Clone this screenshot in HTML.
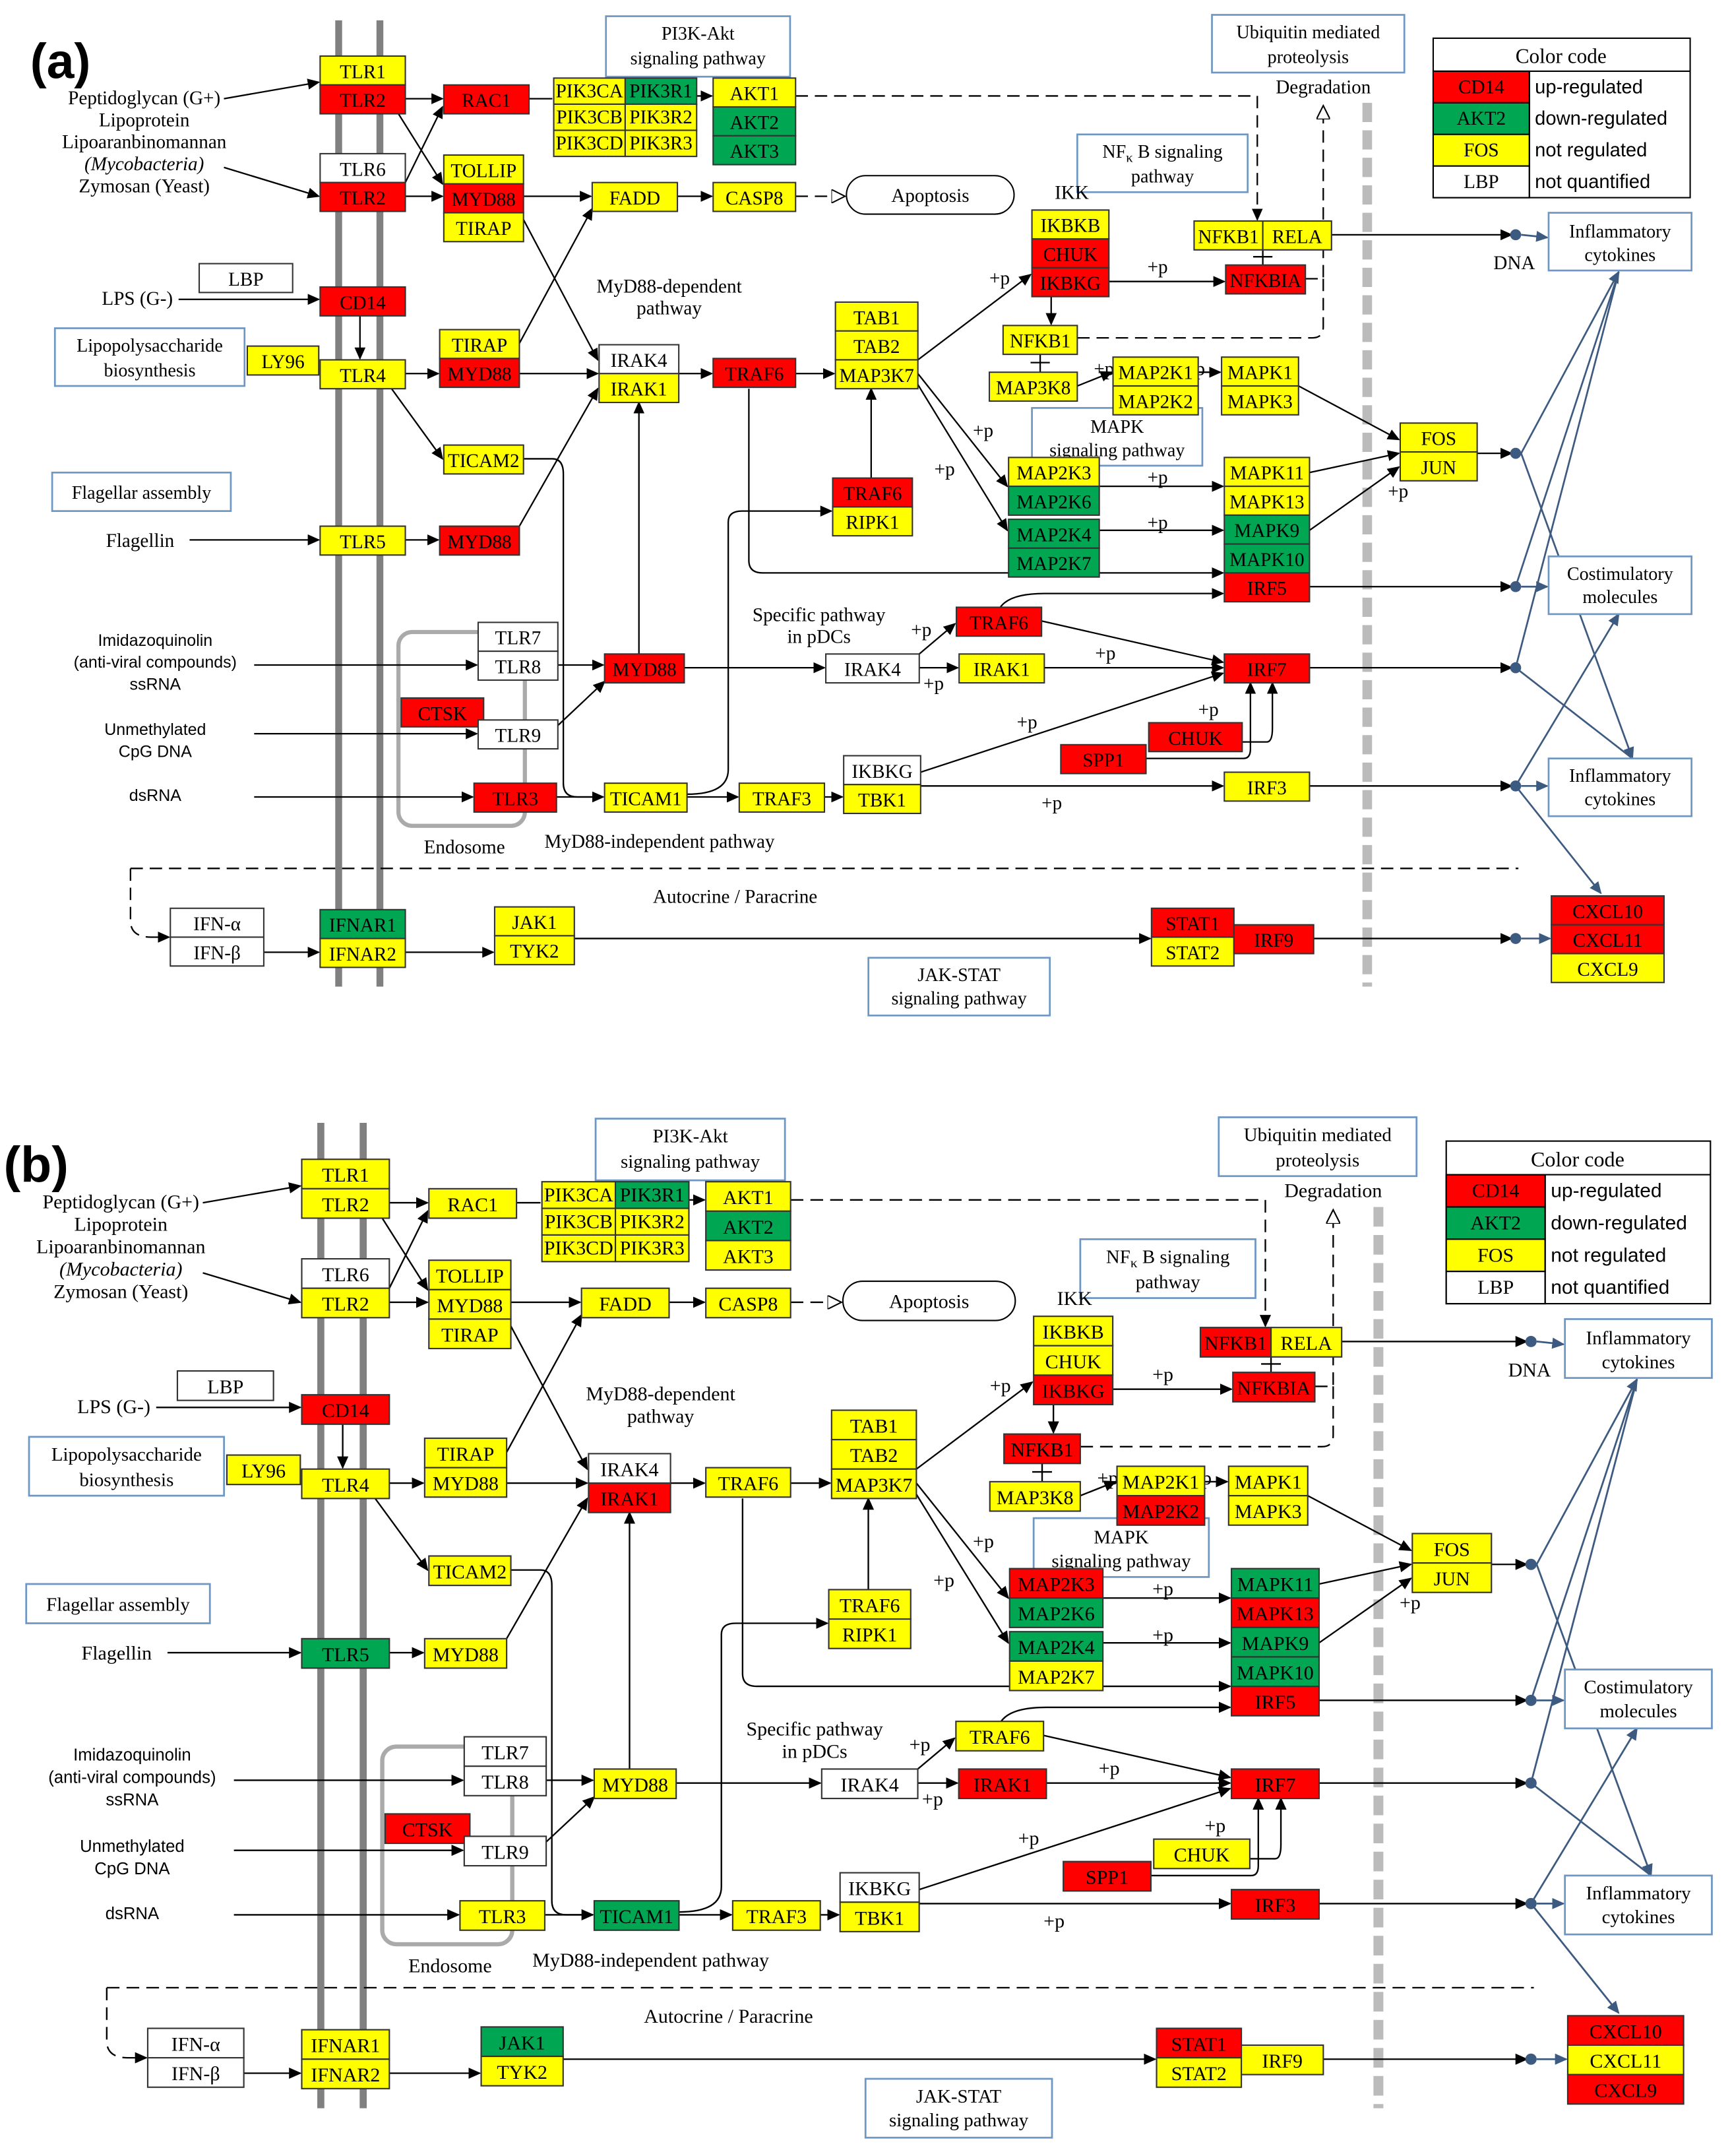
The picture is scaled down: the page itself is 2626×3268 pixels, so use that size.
<!DOCTYPE html>
<html><head><meta charset="utf-8"><style>
html,body{margin:0;padding:0;background:#fff}
svg{display:block}
text{font-family:"Liberation Serif",serif;font-size:14px;fill:#000}
.bx text{text-anchor:middle}
rect.y{fill:#ffff00;stroke:#333;stroke-width:1}
rect.r{fill:#ff0000;stroke:#333;stroke-width:1}
rect.g{fill:#00a651;stroke:#333;stroke-width:1}
rect.w{fill:#fff;stroke:#333;stroke-width:1}
.pw rect{fill:#fff;stroke:#6f97c4;stroke-width:1.3}
.pw text{text-anchor:middle;font-size:13.5px}
.e{stroke:#000;stroke-width:1.1;fill:none;marker-end:url(#ar)}
.l{stroke:#000;stroke-width:1.1;fill:none}
.d{stroke:#000;stroke-width:1.1;fill:none;stroke-dasharray:9 5}
.o{stroke:#3d5a80;stroke-width:1.3;fill:none}
.sm{font-family:"Liberation Sans",sans-serif;font-size:12px;text-anchor:middle}
.c{text-anchor:middle}
.p{font-size:12px}
.cc{font-family:"Liberation Sans",sans-serif;font-size:14px}
</style></head><body>
<svg width="2626" height="3268" viewBox="0 0 1250 1556" xmlns="http://www.w3.org/2000/svg">
<defs>
<marker id="ar" markerWidth="9" markerHeight="8" refX="8" refY="4" orient="auto" markerUnits="userSpaceOnUse"><path d="M0,0 L9,4 L0,8z" fill="#000"/></marker>
<marker id="ot" markerWidth="11" markerHeight="10" refX="10" refY="5" orient="auto" markerUnits="userSpaceOnUse"><path d="M0,0 L10,5 L0,10z" fill="#fff" stroke="#000"/></marker>
<marker id="ob" markerWidth="9" markerHeight="8" refX="8" refY="4" orient="auto" markerUnits="userSpaceOnUse"><path d="M0,0 L9,4 L0,8z" fill="#3d5a80"/></marker>
</defs>

<!-- ================= PANEL A ================= -->
<g transform="translate(-0.2,-0.2) scale(0.992)">
<text x="22" y="57" style="font-family:'Liberation Sans',sans-serif;font-weight:bold;font-size:36px">(a)</text>
<rect x="244" y="15" width="5" height="703" fill="#808080"/>
<rect x="274" y="15" width="5" height="703" fill="#808080"/>
<line x1="995" y1="75" x2="995" y2="718" stroke="#bbb" stroke-width="7" stroke-dasharray="14 6"/>
<rect x="290" y="460" width="92" height="141" rx="10" fill="none" stroke="#aaa" stroke-width="3"/>

<path class="e" d="M163,72 L232,60"/><path class="e" d="M163,122 L232,143"/>
<path class="e" d="M130,218 L232,218"/><path class="e" d="M262,230 L262,261"/>
<path class="e" d="M138,393 L232,393"/><path class="e" d="M185,484 L347,484"/>
<path class="e" d="M185,534 L347,534"/><path class="e" d="M185,580 L344,580"/>
<path class="e" d="M192,693 L232,693"/>
<path class="e" d="M295,72 L322,72"/><path class="l" d="M385,72 L402,72"/><path class="e" d="M507,70 L518,70"/>
<path class="e" d="M290,83 L322,134"/><path class="e" d="M295,133 L322,78"/>
<path class="e" d="M295,143 L322,143"/><path class="e" d="M381,143 L430,143"/><path class="e" d="M493,143 L518,143"/>
<path class="d" d="M579,143 L615,143" marker-end="url(#ot)"/>
<path class="e" d="M381,160 L435,262"/><path class="e" d="M378,250 L431,152"/>
<path class="e" d="M295,272 L319,272"/><path class="e" d="M378,272 L435,272"/>
<path class="e" d="M494,272 L518,272"/><path class="e" d="M579,272 L607,272"/>
<path class="e" d="M285,283 L322,334"/>
<path class="l" d="M381,334 L402,334 Q410,334 410,345 L410,570 Q410,580 420,580 L439,580"/>
<path class="e" d="M295,393 L319,393"/><path class="e" d="M378,383 L435,283"/>
<path class="e" d="M465,476 L465,293"/>
<path class="e" d="M406,484 L439,484"/><path class="e" d="M406,528 L440,496"/>
<path class="e" d="M498,486 L600,486"/><path class="e" d="M669,486 L697,486"/>
<path class="e" d="M669,476 L695,454"/>
<path class="e" d="M760,486 L890,486"/><path class="e" d="M758,452 L890,482"/>
<path class="e" d="M728,442 Q735,432 760,432 L890,432"/>
<path class="e" d="M953,486 L1100,486"/>
<path class="e" d="M904,540 L922,540 Q926,540 926,530 L926,497"/>
<path class="e" d="M834,552 L905,552 Q910,552 910,545 L910,497"/>
<path class="e" d="M405,580 L439,580"/><path class="e" d="M500,580 L537,580"/>
<path class="e" d="M500,578 Q530,578 530,560 L530,380 Q530,372 540,372 L605,372"/>
<path class="e" d="M600,580 L613,580"/><path class="e" d="M670,572 L890,572"/>
<path class="e" d="M670,562 L890,490"/><path class="e" d="M953,572 L1100,572"/>
<path class="e" d="M953,427 L1100,427"/>
<path class="e" d="M545,283 L545,408 Q545,417 555,417 L890,417"/>
<path class="e" d="M668,262 L750,200"/>
<path class="e" d="M668,272 L733,354"/><path class="e" d="M668,280 L733,386"/>
<path class="e" d="M634,348 L634,283"/>
<path class="e" d="M807,205 L891,205"/><path class="e" d="M765,216 L765,236"/>
<path class="l" d="M757,258 L757,271 M750,264 L764,264"/>
<path class="e" d="M784,281 L809,271"/><path class="e" d="M872,271 L888,271"/>
<path class="e" d="M800,354 L890,354"/><path class="e" d="M800,386 L890,386"/>
<path class="e" d="M945,281 L1018,320"/><path class="e" d="M953,344 L1018,330"/><path class="e" d="M953,386 L1018,340"/>
<path class="e" d="M1075,330 L1100,330"/>
<path class="l" d="M919,182 L919,193 M912,187 L926,187"/>
<path class="e" d="M969,171 L1100,171"/>
<path class="d" d="M579,70 L915,70 L915,160" marker-end="url(#ar)"/>
<path class="d" d="M950,203 L963,203 L963,77" marker-end="url(#ot)"/>
<path class="d" d="M784,246 L955,246 Q963,246 963,238 L963,200"/>
<path class="d" d="M95,632 L1105,632"/>
<path class="d" d="M95,632 L95,670 Q95,682 110,682 L123,682" marker-end="url(#ar)"/>
<path class="e" d="M295,693 L359,693"/><path class="e" d="M418,683 L837,683"/>
<path class="e" d="M956,683 L1100,683"/>
<g fill="#3d5a80"><circle cx="1103" cy="171" r="4"/><circle cx="1103" cy="330" r="4"/><circle cx="1103" cy="427" r="4"/><circle cx="1103" cy="486" r="4"/><circle cx="1103" cy="572" r="4"/><circle cx="1103" cy="683" r="4"/></g>
<path class="o" d="M1107,171 L1126,173" marker-end="url(#ob)"/>
<path class="o" d="M1107,330 L1178,198" marker-end="url(#ob)"/>
<path class="o" d="M1107,330 L1188,552" marker-end="url(#ob)"/>
<path class="o" d="M1103,427 L1178,198"/><path class="o" d="M1107,427 L1126,427" marker-end="url(#ob)"/>
<path class="o" d="M1103,486 L1178,198"/><path class="o" d="M1103,486 L1188,552"/>
<path class="o" d="M1103,572 L1178,447" marker-end="url(#ob)"/><path class="o" d="M1107,572 L1126,572" marker-end="url(#ob)"/>
<path class="o" d="M1103,572 L1165,650" marker-end="url(#ob)"/>
<path class="o" d="M1107,683 L1128,683" marker-end="url(#ob)"/>

<g class="pw">
<rect x="441" y="12" width="134" height="44"/><text x="508" y="29">PI3K-Akt</text><text x="508" y="47">signaling pathway</text>
<rect x="882" y="11" width="140" height="42"/><text x="952" y="28">Ubiquitin mediated</text><text x="952" y="46">proteolysis</text>
<rect x="784" y="98" width="124" height="42"/><text x="846" y="115">NF<tspan font-size="10" dy="3">κ</tspan><tspan dy="-3"> B signaling</tspan></text><text x="846" y="133">pathway</text>
<rect x="40" y="239" width="138" height="42"/><text x="109" y="256">Lipopolysaccharide</text><text x="109" y="274">biosynthesis</text>
<rect x="38" y="344" width="130" height="28"/><text x="103" y="363">Flagellar assembly</text>
<rect x="751" y="297" width="124" height="42"/><text x="813" y="315">MAPK</text><text x="813" y="332">signaling pathway</text>
<rect x="1127" y="155" width="104" height="42"/><text x="1179" y="173">Inflammatory</text><text x="1179" y="190">cytokines</text>
<rect x="1127" y="405" width="104" height="42"/><text x="1179" y="422">Costimulatory</text><text x="1179" y="439">molecules</text>
<rect x="1127" y="552" width="104" height="42"/><text x="1179" y="569">Inflammatory</text><text x="1179" y="586">cytokines</text>
<rect x="632" y="697" width="132" height="42"/><text x="698" y="714">JAK-STAT</text><text x="698" y="731">signaling pathway</text>
</g>
<rect x="616" y="128" width="122" height="28" rx="14" fill="#fff" stroke="#000"/><text class="c" x="677" y="147">Apoptosis</text>
<g class="c">
<text x="105" y="76">Peptidoglycan (G+)</text><text x="105" y="92">Lipoprotein</text><text x="105" y="108">Lipoaranbinomannan</text><text x="105" y="124" font-style="italic">(Mycobacteria)</text><text x="105" y="140">Zymosan (Yeast)</text>
<text x="100" y="222">LPS (G-)</text><text x="102" y="398">Flagellin</text>
<text x="487" y="213">MyD88-dependent</text><text x="487" y="229">pathway</text>
<text x="780" y="145">IKK</text>
<text x="596" y="452">Specific pathway</text><text x="596" y="468">in pDCs</text>
<text x="338" y="621">Endosome</text><text x="480" y="617">MyD88-independent pathway</text>
<text x="535" y="657">Autocrine / Paracrine</text>
<text x="963" y="68">Degradation</text><text x="1102" y="196">DNA</text>
</g>
<text class="sm" x="113" y="470">Imidazoquinolin</text><text class="sm" x="113" y="486">(anti-viral compounds)</text><text class="sm" x="113" y="502">ssRNA</text>
<text class="sm" x="113" y="535">Unmethylated</text><text class="sm" x="113" y="551">CpG DNA</text><text class="sm" x="113" y="583">dsRNA</text>
<g class="p"><text x="720" y="207">+p</text><text x="835" y="199">+p</text><text x="708" y="318">+p</text><text x="680" y="346">+p</text><text x="835" y="352">+p</text><text x="835" y="385">+p</text><text x="796" y="273">+p</text><text x="870" y="273">p</text><text x="663" y="463">+p</text><text x="672" y="502">+p</text><text x="797" y="480">+p</text><text x="740" y="530">+p</text><text x="872" y="521">+p</text><text x="758" y="589">+p</text><text x="1010" y="362">+p</text></g>

<rect x="1043" y="28" width="187" height="116" fill="#fff" stroke="#000"/>
<text class="c" x="1136" y="46" style="font-size:15px">Color code</text>
<rect x="1043" y="52" width="70" height="23" fill="#f00" stroke="#000"/><text class="c" x="1078" y="68" fill="#800">CD14</text><text class="cc" x="1117" y="68">up-regulated</text>
<rect x="1043" y="75" width="70" height="23" fill="#00a651" stroke="#000"/><text class="c" x="1078" y="91">AKT2</text><text class="cc" x="1117" y="91">down-regulated</text>
<rect x="1043" y="98" width="70" height="23" fill="#ff0" stroke="#000"/><text class="c" x="1078" y="114">FOS</text><text class="cc" x="1117" y="114">not regulated</text>
<rect x="1043" y="121" width="70" height="23" fill="#fff" stroke="#000"/><text class="c" x="1078" y="137">LBP</text><text class="cc" x="1117" y="137">not quantified</text>
<line x1="1043" y1="52" x2="1230" y2="52" stroke="#000"/><line x1="1113" y1="52" x2="1113" y2="144" stroke="#000"/>

<g class="bx">
<rect class="y" x="233" y="41" width="62" height="21"/><text x="264" y="57">TLR1</text>
<rect class="r" x="233" y="62" width="62" height="21"/><text x="264" y="78">TLR2</text>
<rect class="w" x="233" y="112" width="62" height="21"/><text x="264" y="128">TLR6</text>
<rect class="r" x="233" y="133" width="62" height="21"/><text x="264" y="149">TLR2</text>
<rect class="r" x="233" y="209" width="62" height="21"/><text x="264" y="225">CD14</text>
<rect class="y" x="233" y="262" width="62" height="21"/><text x="264" y="278">TLR4</text>
<rect class="y" x="233" y="383" width="62" height="21"/><text x="264" y="399">TLR5</text>
<rect class="g" x="233" y="662" width="62" height="21"/><text x="264" y="678">IFNAR1</text>
<rect class="y" x="233" y="683" width="62" height="21"/><text x="264" y="699">IFNAR2</text>
<rect class="y" x="180" y="252" width="52" height="21"/><text x="206" y="268">LY96</text>
<rect class="w" x="145" y="192" width="68" height="21"/><text x="179" y="208">LBP</text>
<rect class="r" x="323" y="62" width="62" height="21"/><text x="354" y="78">RAC1</text>
<rect class="y" x="403" y="57" width="52" height="19"/><text x="429" y="71" font-size="12">PIK3CA</text>
<rect class="g" x="455" y="57" width="52" height="19"/><text x="481" y="71" font-size="12">PIK3R1</text>
<rect class="y" x="403" y="76" width="52" height="19"/><text x="429" y="90" font-size="12">PIK3CB</text>
<rect class="y" x="455" y="76" width="52" height="19"/><text x="481" y="90" font-size="12">PIK3R2</text>
<rect class="y" x="403" y="95" width="52" height="19"/><text x="429" y="109" font-size="12">PIK3CD</text>
<rect class="y" x="455" y="95" width="52" height="19"/><text x="481" y="109" font-size="12">PIK3R3</text>
<rect class="y" x="519" y="57" width="60" height="21"/><text x="549" y="73">AKT1</text>
<rect class="g" x="519" y="78" width="60" height="21"/><text x="549" y="94">AKT2</text>
<rect class="g" x="519" y="99" width="60" height="21"/><text x="549" y="115">AKT3</text>
<rect class="y" x="323" y="113" width="58" height="21"/><text x="352" y="129">TOLLIP</text>
<rect class="r" x="323" y="134" width="58" height="21"/><text x="352" y="150">MYD88</text>
<rect class="y" x="323" y="155" width="58" height="21"/><text x="352" y="171">TIRAP</text>
<rect class="y" x="431" y="133" width="62" height="21"/><text x="462" y="149">FADD</text>
<rect class="y" x="519" y="133" width="60" height="21"/><text x="549" y="149">CASP8</text>
<rect class="y" x="320" y="240" width="58" height="21"/><text x="349" y="256">TIRAP</text>
<rect class="r" x="320" y="261" width="58" height="21"/><text x="349" y="277">MYD88</text>
<rect class="w" x="436" y="251" width="58" height="21"/><text x="465" y="267">IRAK4</text>
<rect class="y" x="436" y="272" width="58" height="21"/><text x="465" y="288">IRAK1</text>
<rect class="r" x="519" y="261" width="60" height="21"/><text x="549" y="277">TRAF6</text>
<rect class="y" x="608" y="220" width="60" height="21"/><text x="638" y="236">TAB1</text>
<rect class="y" x="608" y="241" width="60" height="21"/><text x="638" y="257">TAB2</text>
<rect class="y" x="608" y="262" width="60" height="21"/><text x="638" y="278">MAP3K7</text>
<rect class="y" x="323" y="324" width="58" height="21"/><text x="352" y="340">TICAM2</text>
<rect class="r" x="320" y="383" width="58" height="21"/><text x="349" y="399">MYD88</text>
<rect class="r" x="606" y="348" width="58" height="21"/><text x="635" y="364">TRAF6</text>
<rect class="y" x="606" y="369" width="58" height="21"/><text x="635" y="385">RIPK1</text>
<rect class="y" x="751" y="153" width="56" height="21"/><text x="779" y="169">IKBKB</text>
<rect class="r" x="751" y="174" width="56" height="21"/><text x="779" y="190">CHUK</text>
<rect class="r" x="751" y="195" width="56" height="21"/><text x="779" y="211">IKBKG</text>
<rect class="y" x="869" y="161" width="50" height="21"/><text x="894" y="177">NFKB1</text>
<rect class="y" x="919" y="161" width="50" height="21"/><text x="944" y="177">RELA</text>
<rect class="r" x="892" y="193" width="58" height="21"/><text x="921" y="209">NFKBIA</text>
<rect class="y" x="730" y="237" width="54" height="21"/><text x="757" y="253">NFKB1</text>
<rect class="y" x="720" y="271" width="64" height="21"/><text x="752" y="287">MAP3K8</text>
<rect class="y" x="810" y="260" width="62" height="21"/><text x="841" y="276">MAP2K1</text>
<rect class="y" x="810" y="281" width="62" height="21"/><text x="841" y="297">MAP2K2</text>
<rect class="y" x="889" y="260" width="56" height="21"/><text x="917" y="276">MAPK1</text>
<rect class="y" x="889" y="281" width="56" height="21"/><text x="917" y="297">MAPK3</text>
<rect class="y" x="734" y="333" width="66" height="21"/><text x="767" y="349">MAP2K3</text>
<rect class="g" x="734" y="354" width="66" height="21"/><text x="767" y="370">MAP2K6</text>
<rect class="g" x="734" y="378" width="66" height="21"/><text x="767" y="394">MAP2K4</text>
<rect class="g" x="734" y="399" width="66" height="21"/><text x="767" y="415">MAP2K7</text>
<rect class="y" x="891" y="333" width="62" height="21"/><text x="922" y="349">MAPK11</text>
<rect class="y" x="891" y="354" width="62" height="21"/><text x="922" y="370">MAPK13</text>
<rect class="g" x="891" y="375" width="62" height="21"/><text x="922" y="391">MAPK9</text>
<rect class="g" x="891" y="396" width="62" height="21"/><text x="922" y="412">MAPK10</text>
<rect class="r" x="891" y="417" width="62" height="21"/><text x="922" y="433">IRF5</text>
<rect class="y" x="1019" y="308" width="56" height="21"/><text x="1047" y="324">FOS</text>
<rect class="y" x="1019" y="329" width="56" height="21"/><text x="1047" y="345">JUN</text>
<rect class="w" x="348" y="453" width="58" height="21"/><text x="377" y="469">TLR7</text>
<rect class="w" x="348" y="474" width="58" height="21"/><text x="377" y="490">TLR8</text>
<rect class="r" x="440" y="476" width="58" height="21"/><text x="469" y="492">MYD88</text>
<rect class="r" x="292" y="508" width="60" height="21"/><text x="322" y="524">CTSK</text>
<rect class="w" x="348" y="524" width="58" height="21"/><text x="377" y="540">TLR9</text>
<rect class="r" x="345" y="570" width="60" height="21"/><text x="375" y="586">TLR3</text>
<rect class="y" x="440" y="570" width="60" height="21"/><text x="470" y="586">TICAM1</text>
<rect class="y" x="538" y="570" width="62" height="21"/><text x="569" y="586">TRAF3</text>
<rect class="w" x="614" y="550" width="56" height="21"/><text x="642" y="566">IKBKG</text>
<rect class="y" x="614" y="571" width="56" height="21"/><text x="642" y="587">TBK1</text>
<rect class="w" x="601" y="476" width="68" height="21"/><text x="635" y="492">IRAK4</text>
<rect class="y" x="698" y="476" width="62" height="21"/><text x="729" y="492">IRAK1</text>
<rect class="r" x="696" y="442" width="62" height="21"/><text x="727" y="458">TRAF6</text>
<rect class="r" x="891" y="476" width="62" height="21"/><text x="922" y="492">IRF7</text>
<rect class="r" x="836" y="526" width="68" height="21"/><text x="870" y="542">CHUK</text>
<rect class="r" x="772" y="542" width="62" height="21"/><text x="803" y="558">SPP1</text>
<rect class="y" x="891" y="562" width="62" height="21"/><text x="922" y="578">IRF3</text>
<rect class="w" x="124" y="661" width="68" height="21"/><text x="158" y="677">IFN-α</text>
<rect class="w" x="124" y="682" width="68" height="21"/><text x="158" y="698">IFN-β</text>
<rect class="y" x="360" y="660" width="58" height="21"/><text x="389" y="676">JAK1</text>
<rect class="y" x="360" y="681" width="58" height="21"/><text x="389" y="697">TYK2</text>
<rect class="r" x="838" y="661" width="60" height="21"/><text x="868" y="677">STAT1</text>
<rect class="y" x="838" y="682" width="60" height="21"/><text x="868" y="698">STAT2</text>
<rect class="r" x="898" y="673" width="58" height="21"/><text x="927" y="689">IRF9</text>
<rect class="r" x="1129" y="652" width="82" height="21"/><text x="1170" y="668">CXCL10</text>
<rect class="r" x="1129" y="673" width="82" height="21"/><text x="1170" y="689">CXCL11</text>
<rect class="y" x="1129" y="694" width="82" height="21"/><text x="1170" y="710">CXCL9</text>
</g>
</g>

<!-- ================= PANEL B ================= -->
<g transform="translate(-20,795.2) scale(1.02,1.0116)">
<text x="22" y="57" style="font-family:'Liberation Sans',sans-serif;font-weight:bold;font-size:36px">(b)</text>
<rect x="244" y="15" width="5" height="703" fill="#808080"/>
<rect x="274" y="15" width="5" height="703" fill="#808080"/>
<line x1="995" y1="75" x2="995" y2="718" stroke="#bbb" stroke-width="7" stroke-dasharray="14 6"/>
<rect x="290" y="460" width="92" height="141" rx="10" fill="none" stroke="#aaa" stroke-width="3"/>

<path class="e" d="M163,72 L232,60"/><path class="e" d="M163,122 L232,143"/>
<path class="e" d="M130,218 L232,218"/><path class="e" d="M262,230 L262,261"/>
<path class="e" d="M138,393 L232,393"/><path class="e" d="M185,484 L347,484"/>
<path class="e" d="M185,534 L347,534"/><path class="e" d="M185,580 L344,580"/>
<path class="e" d="M192,693 L232,693"/>
<path class="e" d="M295,72 L322,72"/><path class="l" d="M385,72 L402,72"/><path class="e" d="M507,70 L518,70"/>
<path class="e" d="M290,83 L322,134"/><path class="e" d="M295,133 L322,78"/>
<path class="e" d="M295,143 L322,143"/><path class="e" d="M381,143 L430,143"/><path class="e" d="M493,143 L518,143"/>
<path class="d" d="M579,143 L615,143" marker-end="url(#ot)"/>
<path class="e" d="M381,160 L435,262"/><path class="e" d="M378,250 L431,152"/>
<path class="e" d="M295,272 L319,272"/><path class="e" d="M378,272 L435,272"/>
<path class="e" d="M494,272 L518,272"/><path class="e" d="M579,272 L607,272"/>
<path class="e" d="M285,283 L322,334"/>
<path class="l" d="M381,334 L402,334 Q410,334 410,345 L410,570 Q410,580 420,580 L439,580"/>
<path class="e" d="M295,393 L319,393"/><path class="e" d="M378,383 L435,283"/>
<path class="e" d="M465,476 L465,293"/>
<path class="e" d="M406,484 L439,484"/><path class="e" d="M406,528 L440,496"/>
<path class="e" d="M498,486 L600,486"/><path class="e" d="M669,486 L697,486"/>
<path class="e" d="M669,476 L695,454"/>
<path class="e" d="M760,486 L890,486"/><path class="e" d="M758,452 L890,482"/>
<path class="e" d="M728,442 Q735,432 760,432 L890,432"/>
<path class="e" d="M953,486 L1100,486"/>
<path class="e" d="M904,540 L922,540 Q926,540 926,530 L926,497"/>
<path class="e" d="M834,552 L905,552 Q910,552 910,545 L910,497"/>
<path class="e" d="M405,580 L439,580"/><path class="e" d="M500,580 L537,580"/>
<path class="e" d="M500,578 Q530,578 530,560 L530,380 Q530,372 540,372 L605,372"/>
<path class="e" d="M600,580 L613,580"/><path class="e" d="M670,572 L890,572"/>
<path class="e" d="M670,562 L890,490"/><path class="e" d="M953,572 L1100,572"/>
<path class="e" d="M953,427 L1100,427"/>
<path class="e" d="M545,283 L545,408 Q545,417 555,417 L890,417"/>
<path class="e" d="M668,262 L750,200"/>
<path class="e" d="M668,272 L733,354"/><path class="e" d="M668,280 L733,386"/>
<path class="e" d="M634,348 L634,283"/>
<path class="e" d="M807,205 L891,205"/><path class="e" d="M765,216 L765,236"/>
<path class="l" d="M757,258 L757,271 M750,264 L764,264"/>
<path class="e" d="M784,281 L809,271"/><path class="e" d="M872,271 L888,271"/>
<path class="e" d="M800,354 L890,354"/><path class="e" d="M800,386 L890,386"/>
<path class="e" d="M945,281 L1018,320"/><path class="e" d="M953,344 L1018,330"/><path class="e" d="M953,386 L1018,340"/>
<path class="e" d="M1075,330 L1100,330"/>
<path class="l" d="M919,182 L919,193 M912,187 L926,187"/>
<path class="e" d="M969,171 L1100,171"/>
<path class="d" d="M579,70 L915,70 L915,160" marker-end="url(#ar)"/>
<path class="d" d="M950,203 L963,203 L963,77" marker-end="url(#ot)"/>
<path class="d" d="M784,246 L955,246 Q963,246 963,238 L963,200"/>
<path class="d" d="M95,632 L1105,632"/>
<path class="d" d="M95,632 L95,670 Q95,682 110,682 L123,682" marker-end="url(#ar)"/>
<path class="e" d="M295,693 L359,693"/><path class="e" d="M418,683 L837,683"/>
<path class="e" d="M956,683 L1100,683"/>
<g fill="#3d5a80"><circle cx="1103" cy="171" r="4"/><circle cx="1103" cy="330" r="4"/><circle cx="1103" cy="427" r="4"/><circle cx="1103" cy="486" r="4"/><circle cx="1103" cy="572" r="4"/><circle cx="1103" cy="683" r="4"/></g>
<path class="o" d="M1107,171 L1126,173" marker-end="url(#ob)"/>
<path class="o" d="M1107,330 L1178,198" marker-end="url(#ob)"/>
<path class="o" d="M1107,330 L1188,552" marker-end="url(#ob)"/>
<path class="o" d="M1103,427 L1178,198"/><path class="o" d="M1107,427 L1126,427" marker-end="url(#ob)"/>
<path class="o" d="M1103,486 L1178,198"/><path class="o" d="M1103,486 L1188,552"/>
<path class="o" d="M1103,572 L1178,447" marker-end="url(#ob)"/><path class="o" d="M1107,572 L1126,572" marker-end="url(#ob)"/>
<path class="o" d="M1103,572 L1165,650" marker-end="url(#ob)"/>
<path class="o" d="M1107,683 L1128,683" marker-end="url(#ob)"/>

<g class="pw">
<rect x="441" y="12" width="134" height="44"/><text x="508" y="29">PI3K-Akt</text><text x="508" y="47">signaling pathway</text>
<rect x="882" y="11" width="140" height="42"/><text x="952" y="28">Ubiquitin mediated</text><text x="952" y="46">proteolysis</text>
<rect x="784" y="98" width="124" height="42"/><text x="846" y="115">NF<tspan font-size="10" dy="3">κ</tspan><tspan dy="-3"> B signaling</tspan></text><text x="846" y="133">pathway</text>
<rect x="40" y="239" width="138" height="42"/><text x="109" y="256">Lipopolysaccharide</text><text x="109" y="274">biosynthesis</text>
<rect x="38" y="344" width="130" height="28"/><text x="103" y="363">Flagellar assembly</text>
<rect x="751" y="297" width="124" height="42"/><text x="813" y="315">MAPK</text><text x="813" y="332">signaling pathway</text>
<rect x="1127" y="155" width="104" height="42"/><text x="1179" y="173">Inflammatory</text><text x="1179" y="190">cytokines</text>
<rect x="1127" y="405" width="104" height="42"/><text x="1179" y="422">Costimulatory</text><text x="1179" y="439">molecules</text>
<rect x="1127" y="552" width="104" height="42"/><text x="1179" y="569">Inflammatory</text><text x="1179" y="586">cytokines</text>
<rect x="632" y="697" width="132" height="42"/><text x="698" y="714">JAK-STAT</text><text x="698" y="731">signaling pathway</text>
</g>
<rect x="616" y="128" width="122" height="28" rx="14" fill="#fff" stroke="#000"/><text class="c" x="677" y="147">Apoptosis</text>
<g class="c">
<text x="105" y="76">Peptidoglycan (G+)</text><text x="105" y="92">Lipoprotein</text><text x="105" y="108">Lipoaranbinomannan</text><text x="105" y="124" font-style="italic">(Mycobacteria)</text><text x="105" y="140">Zymosan (Yeast)</text>
<text x="100" y="222">LPS (G-)</text><text x="102" y="398">Flagellin</text>
<text x="487" y="213">MyD88-dependent</text><text x="487" y="229">pathway</text>
<text x="780" y="145">IKK</text>
<text x="596" y="452">Specific pathway</text><text x="596" y="468">in pDCs</text>
<text x="338" y="621">Endosome</text><text x="480" y="617">MyD88-independent pathway</text>
<text x="535" y="657">Autocrine / Paracrine</text>
<text x="963" y="68">Degradation</text><text x="1102" y="196">DNA</text>
</g>
<text class="sm" x="113" y="470">Imidazoquinolin</text><text class="sm" x="113" y="486">(anti-viral compounds)</text><text class="sm" x="113" y="502">ssRNA</text>
<text class="sm" x="113" y="535">Unmethylated</text><text class="sm" x="113" y="551">CpG DNA</text><text class="sm" x="113" y="583">dsRNA</text>
<g class="p"><text x="720" y="207">+p</text><text x="835" y="199">+p</text><text x="708" y="318">+p</text><text x="680" y="346">+p</text><text x="835" y="352">+p</text><text x="835" y="385">+p</text><text x="796" y="273">+p</text><text x="870" y="273">p</text><text x="663" y="463">+p</text><text x="672" y="502">+p</text><text x="797" y="480">+p</text><text x="740" y="530">+p</text><text x="872" y="521">+p</text><text x="758" y="589">+p</text><text x="1010" y="362">+p</text></g>

<rect x="1043" y="28" width="187" height="116" fill="#fff" stroke="#000"/>
<text class="c" x="1136" y="46" style="font-size:15px">Color code</text>
<rect x="1043" y="52" width="70" height="23" fill="#f00" stroke="#000"/><text class="c" x="1078" y="68" fill="#800">CD14</text><text class="cc" x="1117" y="68">up-regulated</text>
<rect x="1043" y="75" width="70" height="23" fill="#00a651" stroke="#000"/><text class="c" x="1078" y="91">AKT2</text><text class="cc" x="1117" y="91">down-regulated</text>
<rect x="1043" y="98" width="70" height="23" fill="#ff0" stroke="#000"/><text class="c" x="1078" y="114">FOS</text><text class="cc" x="1117" y="114">not regulated</text>
<rect x="1043" y="121" width="70" height="23" fill="#fff" stroke="#000"/><text class="c" x="1078" y="137">LBP</text><text class="cc" x="1117" y="137">not quantified</text>
<line x1="1043" y1="52" x2="1230" y2="52" stroke="#000"/><line x1="1113" y1="52" x2="1113" y2="144" stroke="#000"/>

<g class="bx">
<rect class="y" x="233" y="41" width="62" height="21"/><text x="264" y="57">TLR1</text>
<rect class="y" x="233" y="62" width="62" height="21"/><text x="264" y="78">TLR2</text>
<rect class="w" x="233" y="112" width="62" height="21"/><text x="264" y="128">TLR6</text>
<rect class="y" x="233" y="133" width="62" height="21"/><text x="264" y="149">TLR2</text>
<rect class="r" x="233" y="209" width="62" height="21"/><text x="264" y="225">CD14</text>
<rect class="y" x="233" y="262" width="62" height="21"/><text x="264" y="278">TLR4</text>
<rect class="g" x="233" y="383" width="62" height="21"/><text x="264" y="399">TLR5</text>
<rect class="y" x="233" y="662" width="62" height="21"/><text x="264" y="678">IFNAR1</text>
<rect class="y" x="233" y="683" width="62" height="21"/><text x="264" y="699">IFNAR2</text>
<rect class="y" x="180" y="252" width="52" height="21"/><text x="206" y="268">LY96</text>
<rect class="w" x="145" y="192" width="68" height="21"/><text x="179" y="208">LBP</text>
<rect class="y" x="323" y="62" width="62" height="21"/><text x="354" y="78">RAC1</text>
<rect class="y" x="403" y="57" width="52" height="19"/><text x="429" y="71" font-size="12">PIK3CA</text>
<rect class="g" x="455" y="57" width="52" height="19"/><text x="481" y="71" font-size="12">PIK3R1</text>
<rect class="y" x="403" y="76" width="52" height="19"/><text x="429" y="90" font-size="12">PIK3CB</text>
<rect class="y" x="455" y="76" width="52" height="19"/><text x="481" y="90" font-size="12">PIK3R2</text>
<rect class="y" x="403" y="95" width="52" height="19"/><text x="429" y="109" font-size="12">PIK3CD</text>
<rect class="y" x="455" y="95" width="52" height="19"/><text x="481" y="109" font-size="12">PIK3R3</text>
<rect class="y" x="519" y="57" width="60" height="21"/><text x="549" y="73">AKT1</text>
<rect class="g" x="519" y="78" width="60" height="21"/><text x="549" y="94">AKT2</text>
<rect class="y" x="519" y="99" width="60" height="21"/><text x="549" y="115">AKT3</text>
<rect class="y" x="323" y="113" width="58" height="21"/><text x="352" y="129">TOLLIP</text>
<rect class="y" x="323" y="134" width="58" height="21"/><text x="352" y="150">MYD88</text>
<rect class="y" x="323" y="155" width="58" height="21"/><text x="352" y="171">TIRAP</text>
<rect class="y" x="431" y="133" width="62" height="21"/><text x="462" y="149">FADD</text>
<rect class="y" x="519" y="133" width="60" height="21"/><text x="549" y="149">CASP8</text>
<rect class="y" x="320" y="240" width="58" height="21"/><text x="349" y="256">TIRAP</text>
<rect class="y" x="320" y="261" width="58" height="21"/><text x="349" y="277">MYD88</text>
<rect class="w" x="436" y="251" width="58" height="21"/><text x="465" y="267">IRAK4</text>
<rect class="r" x="436" y="272" width="58" height="21"/><text x="465" y="288">IRAK1</text>
<rect class="y" x="519" y="261" width="60" height="21"/><text x="549" y="277">TRAF6</text>
<rect class="y" x="608" y="220" width="60" height="21"/><text x="638" y="236">TAB1</text>
<rect class="y" x="608" y="241" width="60" height="21"/><text x="638" y="257">TAB2</text>
<rect class="y" x="608" y="262" width="60" height="21"/><text x="638" y="278">MAP3K7</text>
<rect class="y" x="323" y="324" width="58" height="21"/><text x="352" y="340">TICAM2</text>
<rect class="y" x="320" y="383" width="58" height="21"/><text x="349" y="399">MYD88</text>
<rect class="y" x="606" y="348" width="58" height="21"/><text x="635" y="364">TRAF6</text>
<rect class="y" x="606" y="369" width="58" height="21"/><text x="635" y="385">RIPK1</text>
<rect class="y" x="751" y="153" width="56" height="21"/><text x="779" y="169">IKBKB</text>
<rect class="y" x="751" y="174" width="56" height="21"/><text x="779" y="190">CHUK</text>
<rect class="r" x="751" y="195" width="56" height="21"/><text x="779" y="211">IKBKG</text>
<rect class="r" x="869" y="161" width="50" height="21"/><text x="894" y="177">NFKB1</text>
<rect class="y" x="919" y="161" width="50" height="21"/><text x="944" y="177">RELA</text>
<rect class="r" x="892" y="193" width="58" height="21"/><text x="921" y="209">NFKBIA</text>
<rect class="r" x="730" y="237" width="54" height="21"/><text x="757" y="253">NFKB1</text>
<rect class="y" x="720" y="271" width="64" height="21"/><text x="752" y="287">MAP3K8</text>
<rect class="y" x="810" y="260" width="62" height="21"/><text x="841" y="276">MAP2K1</text>
<rect class="r" x="810" y="281" width="62" height="21"/><text x="841" y="297">MAP2K2</text>
<rect class="y" x="889" y="260" width="56" height="21"/><text x="917" y="276">MAPK1</text>
<rect class="y" x="889" y="281" width="56" height="21"/><text x="917" y="297">MAPK3</text>
<rect class="r" x="734" y="333" width="66" height="21"/><text x="767" y="349">MAP2K3</text>
<rect class="g" x="734" y="354" width="66" height="21"/><text x="767" y="370">MAP2K6</text>
<rect class="g" x="734" y="378" width="66" height="21"/><text x="767" y="394">MAP2K4</text>
<rect class="y" x="734" y="399" width="66" height="21"/><text x="767" y="415">MAP2K7</text>
<rect class="g" x="891" y="333" width="62" height="21"/><text x="922" y="349">MAPK11</text>
<rect class="r" x="891" y="354" width="62" height="21"/><text x="922" y="370">MAPK13</text>
<rect class="g" x="891" y="375" width="62" height="21"/><text x="922" y="391">MAPK9</text>
<rect class="g" x="891" y="396" width="62" height="21"/><text x="922" y="412">MAPK10</text>
<rect class="r" x="891" y="417" width="62" height="21"/><text x="922" y="433">IRF5</text>
<rect class="y" x="1019" y="308" width="56" height="21"/><text x="1047" y="324">FOS</text>
<rect class="y" x="1019" y="329" width="56" height="21"/><text x="1047" y="345">JUN</text>
<rect class="w" x="348" y="453" width="58" height="21"/><text x="377" y="469">TLR7</text>
<rect class="w" x="348" y="474" width="58" height="21"/><text x="377" y="490">TLR8</text>
<rect class="y" x="440" y="476" width="58" height="21"/><text x="469" y="492">MYD88</text>
<rect class="r" x="292" y="508" width="60" height="21"/><text x="322" y="524">CTSK</text>
<rect class="w" x="348" y="524" width="58" height="21"/><text x="377" y="540">TLR9</text>
<rect class="y" x="345" y="570" width="60" height="21"/><text x="375" y="586">TLR3</text>
<rect class="g" x="440" y="570" width="60" height="21"/><text x="470" y="586">TICAM1</text>
<rect class="y" x="538" y="570" width="62" height="21"/><text x="569" y="586">TRAF3</text>
<rect class="w" x="614" y="550" width="56" height="21"/><text x="642" y="566">IKBKG</text>
<rect class="y" x="614" y="571" width="56" height="21"/><text x="642" y="587">TBK1</text>
<rect class="w" x="601" y="476" width="68" height="21"/><text x="635" y="492">IRAK4</text>
<rect class="r" x="698" y="476" width="62" height="21"/><text x="729" y="492">IRAK1</text>
<rect class="y" x="696" y="442" width="62" height="21"/><text x="727" y="458">TRAF6</text>
<rect class="r" x="891" y="476" width="62" height="21"/><text x="922" y="492">IRF7</text>
<rect class="y" x="836" y="526" width="68" height="21"/><text x="870" y="542">CHUK</text>
<rect class="r" x="772" y="542" width="62" height="21"/><text x="803" y="558">SPP1</text>
<rect class="r" x="891" y="562" width="62" height="21"/><text x="922" y="578">IRF3</text>
<rect class="w" x="124" y="661" width="68" height="21"/><text x="158" y="677">IFN-α</text>
<rect class="w" x="124" y="682" width="68" height="21"/><text x="158" y="698">IFN-β</text>
<rect class="g" x="360" y="660" width="58" height="21"/><text x="389" y="676">JAK1</text>
<rect class="y" x="360" y="681" width="58" height="21"/><text x="389" y="697">TYK2</text>
<rect class="r" x="838" y="661" width="60" height="21"/><text x="868" y="677">STAT1</text>
<rect class="y" x="838" y="682" width="60" height="21"/><text x="868" y="698">STAT2</text>
<rect class="y" x="898" y="673" width="58" height="21"/><text x="927" y="689">IRF9</text>
<rect class="r" x="1129" y="652" width="82" height="21"/><text x="1170" y="668">CXCL10</text>
<rect class="y" x="1129" y="673" width="82" height="21"/><text x="1170" y="689">CXCL11</text>
<rect class="r" x="1129" y="694" width="82" height="21"/><text x="1170" y="710">CXCL9</text>
</g>
</g>
</svg>
</body></html>
